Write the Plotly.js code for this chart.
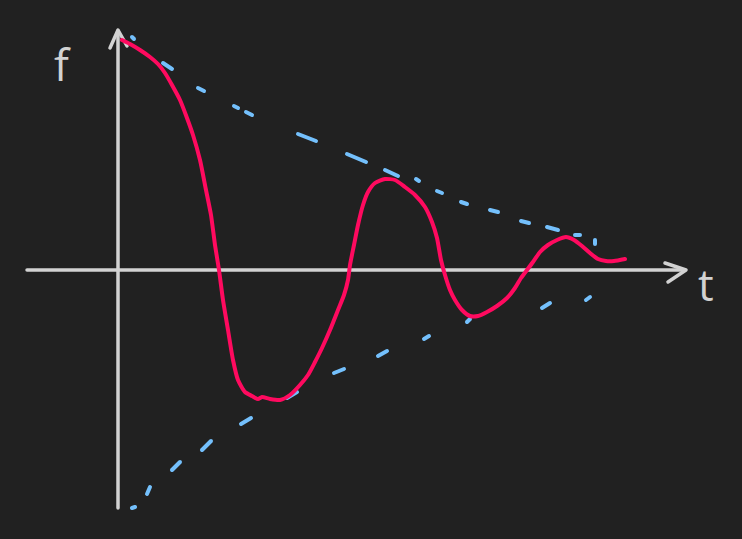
<!DOCTYPE html>
<html>
<head>
<meta charset="utf-8">
<script src="https://cdn.plot.ly/plotly-3.0.1.min.js"></script>
<style>
html,body{margin:0;padding:0;background:#212121;}
#chart{width:742px;height:539px;}
#chart path.js-line{stroke-linecap:round !important;stroke-linejoin:round !important;}
</style>
</head>
<body>
<div id="chart"></div>
<script>
// Damped oscillation f(t) (hand drawn), in chart units
const curveT = [4,12,22,32,40,47,54,62,69,75,82,88,93,97,101,105,110,115,120,127,134,140,144,152,162,172,182,190,197,204,212,220,226,230,232,236,240,245,250,257,267,277,287,297,307,314,319,323,327,332,337,344,352,360,369,379,389,397,403,409,415,422,430,439,448,456,464,472,480,488,496,507];
const curveF = [230,226,220,213,206,197,185,170,152,135,110,80,55,25,0,-30,-60,-90,-110,-122,-126,-129,-127,-129,-130,-125,-115,-105,-92,-78,-60,-40,-25,-10,5,25,45,65,78,87,91,90,83,75,63,48,32,10,-5,-20,-30,-40,-46,-46,-42,-36,-28,-18,-8,0,8,18,25,30,33,30,24,17,11,9,9,11];

// Upper envelope dashes (pairs separated by null)
const upperT = [14,16,null,45,54,null,80,86,null,116,120,null,128,134,null,180,198,null,229,248,null,267,280,null,298,301,null,319,324,null,343,349,null,372,380,null,403,411,null,429,440,null,457,462,null,477,477];
const upperF = [233,231,null,207,201,null,182,179,null,164,162,null,158,155,null,136,129,null,116,108,null,100,94,null,91,89,null,79,77,null,68,66,null,60,58,null,49,47,null,43,40,null,35,35,null,30,26];

// Lower envelope dashes
const lowerT = [14,17,null,29,32,null,54,62,null,84,93,null,123,133,null,169,179,null,216,226,null,260,269,null,306,311,null,349,352,null,424,432,null,468,472];
const lowerF = [-238,-237,null,-224,-217,null,-200,-192,null,-180,-171,null,-154,-148,null,-128,-122,null,-103,-99,null,-86,-81,null,-69,-66,null,-52,-49,null,-38,-33,null,-30,-27];

// Axes with arrow heads
const xAxisT = [-91,566,null,547,568,550];
const xAxisF = [0,0,null,7,0,-12];
const yAxisT = [0,0,null,-8,0,9];
const yAxisF = [-238,239,null,222,240,224];

const axisLabels = [{text:'f', t:-56, f:206}, {text:'t', t:588, f:-14}];

const axisColor = '#d2d2d2';
const traces = [
  {x:xAxisT, y:xAxisF, mode:'lines', line:{color:axisColor, width:3.5}, hoverinfo:'skip'},
  {x:yAxisT, y:yAxisF, mode:'lines', line:{color:axisColor, width:3.5}, hoverinfo:'skip'},
  {x:upperT, y:upperF, mode:'lines', line:{color:'#74c0fc', width:4}, connectgaps:false, hoverinfo:'skip'},
  {x:lowerT, y:lowerF, mode:'lines', line:{color:'#74c0fc', width:4}, connectgaps:false, hoverinfo:'skip'},
  {x:curveT, y:curveF, mode:'lines', line:{color:'#ff0a5f', width:4, shape:'spline', smoothing:0.6}, hoverinfo:'skip'}
];

const layout = {
  width:742, height:539,
  margin:{l:0,r:0,t:0,b:0},
  paper_bgcolor:'#212121', plot_bgcolor:'#212121',
  showlegend:false,
  xaxis:{range:[-118,624], visible:false, fixedrange:true},
  yaxis:{range:[-269,270], visible:false, fixedrange:true},
  annotations: axisLabels.map(a => ({x:a.t, y:a.f, xref:'x', yref:'y', text:a.text, showarrow:false,
    font:{family:'Open Sans', size:44, color:axisColor}}))
};

Plotly.newPlot('chart', traces, layout, {displayModeBar:false, staticPlot:true});
</script>
</body>
</html>
